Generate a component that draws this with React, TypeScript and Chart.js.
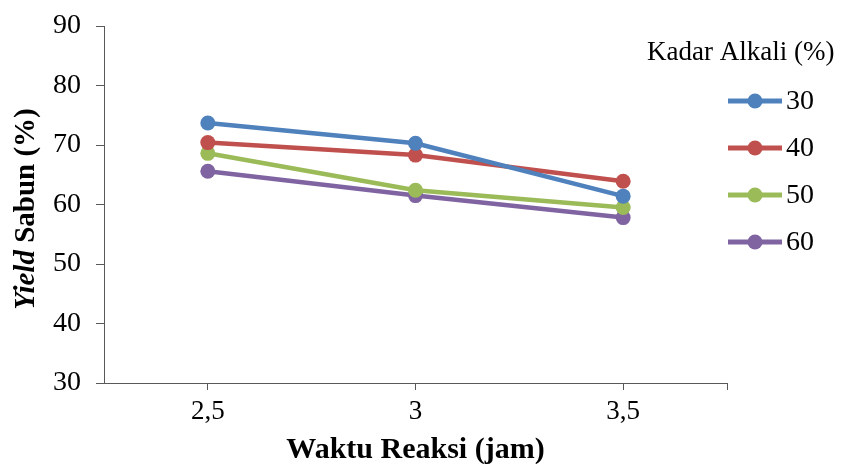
import React, { useEffect, useRef } from "react";
import { Chart, registerables } from "chart.js";

Chart.register(...registerables);

const categories = ["2,5", "3", "3,5"];
const seriesNames = ["30", "40", "50", "60"];
const values30 = [73.7, 70.3, 61.4];
const values40 = [70.4, 68.3, 63.9];
const values50 = [68.6, 62.4, 59.5];
const values60 = [65.6, 61.5, 57.8];
const colors = ["#4F81BD", "#C0504D", "#9BBB59", "#8064A2"];
const legendTitle = "Kadar Alkali (%)";
const xTitle = "Waktu Reaksi (jam)";
const yTitleItalic = "Yield";
const yTitleRest = " Sabun (%)";

const SERIF = "'Liberation Serif', 'Times New Roman', serif";
const AXIS = "#595959";

export default function App() {
  const ref = useRef<HTMLCanvasElement | null>(null);
  useEffect(() => {
    if (!ref.current) return;
    const allValues = [values30, values40, values50, values60];
    const extras = {
      id: "extras",
      afterDraw(chart: any) {
        const ctx = chart.ctx;
        const ca = chart.chartArea;
        ctx.save();
        // end tick on x axis
        ctx.strokeStyle = AXIS;
        ctx.lineWidth = 1;
        ctx.beginPath();
        ctx.moveTo(Math.round(ca.right) + 0.5, ca.bottom);
        ctx.lineTo(Math.round(ca.right) + 0.5, ca.bottom + 7);
        ctx.stroke();
        // y title (mixed italic / bold)
        ctx.translate(27, 209);
        ctx.rotate(-Math.PI / 2);
        ctx.fillStyle = "#000";
        ctx.textBaseline = "middle";
        const f1 = `italic bold 29px ${SERIF}`;
        const f2 = `bold 29px ${SERIF}`;
        ctx.font = f1;
        const w1 = ctx.measureText(yTitleItalic).width;
        ctx.font = f2;
        const w2 = ctx.measureText(yTitleRest).width;
        const start = -(w1 + w2) / 2;
        ctx.textAlign = "left";
        ctx.font = f1;
        ctx.fillText(yTitleItalic, start, 0);
        ctx.font = f2;
        ctx.fillText(yTitleRest, start + w1, 0);
        ctx.restore();

        // legend
        ctx.save();
        ctx.fillStyle = "#000";
        ctx.font = `27px ${SERIF}`;
        ctx.textAlign = "left";
        ctx.textBaseline = "middle";
        ctx.fillText(legendTitle, 647, 53);
        seriesNames.forEach((name, i) => {
          const y = 101 + i * 47;
          ctx.strokeStyle = colors[i];
          ctx.lineWidth = 5;
          ctx.beginPath();
          ctx.moveTo(728, y);
          ctx.lineTo(782, y);
          ctx.stroke();
          ctx.fillStyle = colors[i];
          ctx.beginPath();
          ctx.arc(755, y, 7.5, 0, Math.PI * 2);
          ctx.fill();
          ctx.fillStyle = "#000";
          ctx.font = `28px ${SERIF}`;
          ctx.fillText(name, 786, y + 1);
        });
        ctx.restore();
      },
    };
    const chart = new Chart(ref.current, {
      type: "line",
      data: {
        labels: categories,
        datasets: seriesNames.map((name, i) => ({
          label: name,
          data: allValues[i],
          borderColor: colors[i],
          backgroundColor: colors[i],
          borderWidth: 4.5,
          pointRadius: 7.5,
          pointBackgroundColor: colors[i],
          pointBorderWidth: 0,
          tension: 0,
        })),
      },
      options: {
        animation: false,
        responsive: false,
        layout: { padding: { top: 26, right: 125, left: 0, bottom: 0 } },
        plugins: { legend: { display: false }, tooltip: { enabled: false } },
        scales: {
          x: {
            type: "category",
            offset: true,
            grid: {
              offset: false,
              drawOnChartArea: false,
              drawTicks: true,
              tickLength: 7,
              color: AXIS,
            },
            border: { display: true, color: AXIS, width: 1 },
            ticks: {
              color: "#000",
              font: { family: SERIF, size: 27 },
              padding: 6,
              maxRotation: 0,
            },
            title: {
              display: true,
              text: xTitle,
              color: "#000",
              font: { family: SERIF, size: 30, weight: "bold" },
              padding: { top: 0, bottom: -4 },
            },
            afterFit(s: any) {
              s.height = 81;
            },
          },
          y: {
            min: 30,
            max: 90,
            ticks: {
              stepSize: 10,
              color: "#000",
              font: { family: SERIF, size: 28, lineHeight: 0.8 },
              padding: 15,
            },
            grid: {
              drawOnChartArea: false,
              drawTicks: true,
              tickLength: 8,
              color: AXIS,
            },
            border: { display: true, color: AXIS, width: 1 },
            afterFit(s: any) {
              s.width = 104;
              s.paddingTop = 0;
            },
          },
        },
      },
      plugins: [extras],
    } as any);
    return () => chart.destroy();
  }, []);
  return (
    <div style={{ position: "fixed", left: 0, top: 0, width: 852, height: 464, background: "#fff" }}>
      <canvas ref={ref} width={852} height={464} style={{ width: 852, height: 464 }} />
    </div>
  );
}
